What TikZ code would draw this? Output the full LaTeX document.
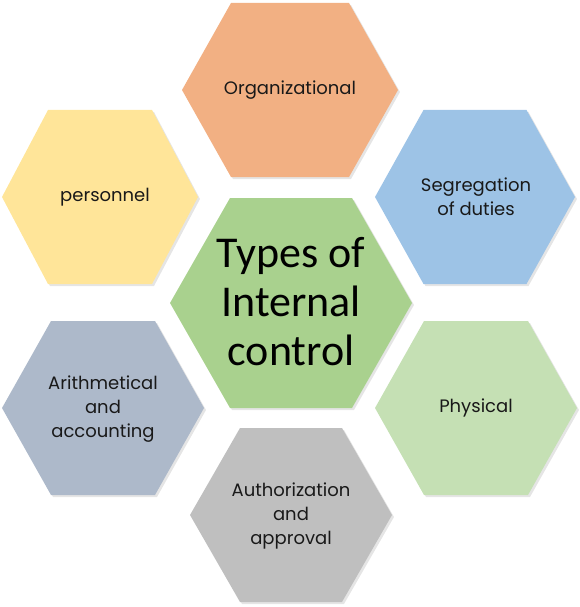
\documentclass[tikz,border=0pt]{standalone}
\usepackage{fontspec}
\setmainfont{Poppins}
\newfontfamily\centerfont{Carlito}
\definecolor{cOrg}{RGB}{242,176,131}
\definecolor{cPers}{RGB}{255,229,153}
\definecolor{cSeg}{RGB}{157,195,230}
\definecolor{cArith}{RGB}{173,185,202}
\definecolor{cPhys}{RGB}{197,224,180}
\definecolor{cAuth}{RGB}{191,191,191}
\definecolor{cCenter}{RGB}{169,209,142}
\newcommand\hexfill[6]{% style, cx, cy, w, e, h
  \fill[black,opacity=0.10] ({#2-#4/2+2},{#3+2}) -- ({#2-#5/2+2},{#3-#6/2+2}) -- ({#2+#5/2+2},{#3-#6/2+2}) -- ({#2+#4/2+2},{#3+2}) -- ({#2+#5/2+2},{#3+#6/2+2}) -- ({#2-#5/2+2},{#3+#6/2+2}) -- cycle;
  \fill[#1] ({#2-#4/2},{#3}) -- ({#2-#5/2},{#3-#6/2}) -- ({#2+#5/2},{#3-#6/2}) -- ({#2+#4/2},{#3}) -- ({#2+#5/2},{#3+#6/2}) -- ({#2-#5/2},{#3+#6/2}) -- cycle;}
\tikzset{
  lbl/.style={align=center, font=\fontsize{18}{24}\selectfont, text=black!90},
  clbl/.style={align=center, font=\centerfont\fontsize{44}{49}\selectfont, text=black}
}
\begin{document}
\begin{tikzpicture}[x=1pt,y=-1pt]
\useasboundingbox (0,0) rectangle (580,607);
\hexfill{cOrg}{290}{90}{216}{118}{174}
\hexfill{cPers}{100}{197}{196}{104}{174}
\hexfill{cSeg}{475}{197}{200}{103}{174}
\hexfill{cArith}{103}{408}{202}{104}{174}
\hexfill{cPhys}{476}{408}{202}{104}{174}
\hexfill{cAuth}{291}{515}{202}{102}{174}
\hexfill{cCenter}{291}{303}{242}{122}{210}
\node[lbl] (org) at (290,90) {Organizational};
\node[lbl] (pers) at (105,197) {personnel};
\node[lbl] (seg) at (476,197) {Segregation\\of duties};
\node[lbl] (arith) at (103,409) {Arithmetical\\and\\accounting};
\node[lbl] (phys) at (476,408) {Physical};
\node[lbl] (auth) at (291,516) {Authorization\\and\\approval};
\node[clbl] (center) at (291,302) {Types of\\Internal\\control};
\end{tikzpicture}
\end{document}
